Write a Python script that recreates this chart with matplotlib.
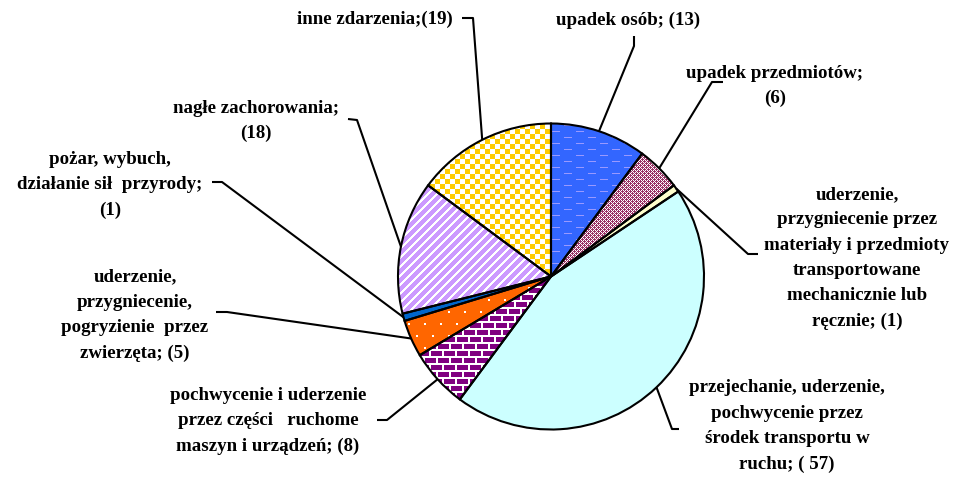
import numpy as np
import matplotlib
matplotlib.use("Agg")
import matplotlib.pyplot as plt

# dane
labels = ["upadek osób; (13)",
          "upadek przedmiotów;\n(6)",
          "uderzenie,\nprzygniecenie przez\nmateriały i przedmioty\ntransportowane\nmechanicznie lub\nręcznie; (1)",
          "przejechanie, uderzenie,\npochwycenie przez\nśrodek transportu w\nruchu; ( 57)",
          "pochwycenie i uderzenie\nprzez części   ruchome\nmaszyn i urządzeń; (8)",
          "uderzenie,\nprzygniecenie,\npogryzienie  przez\nzwierzęta; (5)",
          "pożar, wybuch,\ndziałanie sił  przyrody;\n(1)",
          "nagłe zachorowania;\n(18)",
          "inne zdarzenia;(19)"]
values = [13, 6, 1, 57, 8, 5, 1, 18, 19]
base_colors = ["#3366ff", "#993366", "#ffffcc", "#ccffff", "#800080",
               "#ff6600", "#0066cc", "#cc99ff", "#ffcc00"]

W, H = 959, 481
cx, cy, r = 551, H - 277.5, 153

plt.rcParams['font.family'] = ['Liberation Serif', 'DejaVu Serif']
fig = plt.figure(figsize=(W / 100, H / 100), dpi=100)
ax = fig.add_axes([0, 0, 1, 1])

wedges, _ = ax.pie(values, colors=base_colors, startangle=90, counterclock=False,
                   center=(cx, cy), radius=r, wedgeprops=dict(linewidth=0))

# wzory (jak w Excelu)
yy, xx = np.mgrid[0:H, 0:W]
def pattern(base, mask, c2="#ffffff"):
    arr = np.empty((H, W, 3))
    arr[:] = matplotlib.colors.to_rgb(base)
    arr[mask] = matplotlib.colors.to_rgb(c2)
    return arr

patterns = {
    0: pattern("#3366ff", (yy % 6 == 0) & (((xx + (yy // 6 % 2) * 12) % 24) < 8), "#9999ff"),
    1: pattern("#993366", ((xx + yy) % 4 == 0) | ((xx - yy) % 4 == 0)),
    4: pattern("#800080", (yy % 7 < 2) | (((xx + (yy // 7 % 2) * 6) % 13) < 2)),
    5: pattern("#ff6600", (yy % 12 < 2) & (((xx + (yy // 12 % 2) * 8) % 16) < 2)),
    7: pattern("#cc99ff", ((xx + yy) % 9) < 3),
    8: pattern("#ffcc00", ((xx // 5 + yy // 5) % 2 == 0)),
}
for i, arr in patterns.items():
    im = ax.imshow(arr, extent=[0, W, 0, H], origin="upper", interpolation="nearest", zorder=2)
    im.set_clip_path(wedges[i])

ax.pie(values, colors=["none"] * len(values), startangle=90, counterclock=False,
       center=(cx, cy), radius=r,
       wedgeprops=dict(edgecolor="black", linewidth=1.5, zorder=3))

# etykiety: (x, y) środka tekstu, punkt łamania linii, koniec przy tekście
label_pos = [(628, 20), (775, 86), (857, 258), (787, 426), (268, 421),
             (135, 315), (110, 185), (256, 121), (375, 19)]
elbows = [(634, 47), (712, 83), (748, 255), (672, 430), (387, 421),
          (227, 313), (222, 183), (357, 121), (473, 19)]
ends = [(634, 37), (723, 83), (758, 255), (679, 430), (377, 421),
        (216, 313), (212, 183), (348, 120), (462, 19)]

for w, lab, pos, el, en in zip(wedges, labels, label_pos, elbows, ends):
    ang = np.deg2rad((w.theta1 + w.theta2) / 2)
    ex, ey = cx + r * np.cos(ang), cy + r * np.sin(ang)
    ax.plot([ex, el[0], en[0]], [ey, H - el[1], H - en[1]], color="black",
            linewidth=1.5, zorder=4, solid_capstyle="butt")
    ax.text(pos[0], H - pos[1], lab, ha="center", va="center", fontsize=13.6,
            fontweight="bold", linespacing=1.63, zorder=5)

ax.set_xlim(0, W)
ax.set_ylim(0, H)
ax.set_aspect("equal")
ax.axis("off")
fig.savefig("out.png", dpi=100)
